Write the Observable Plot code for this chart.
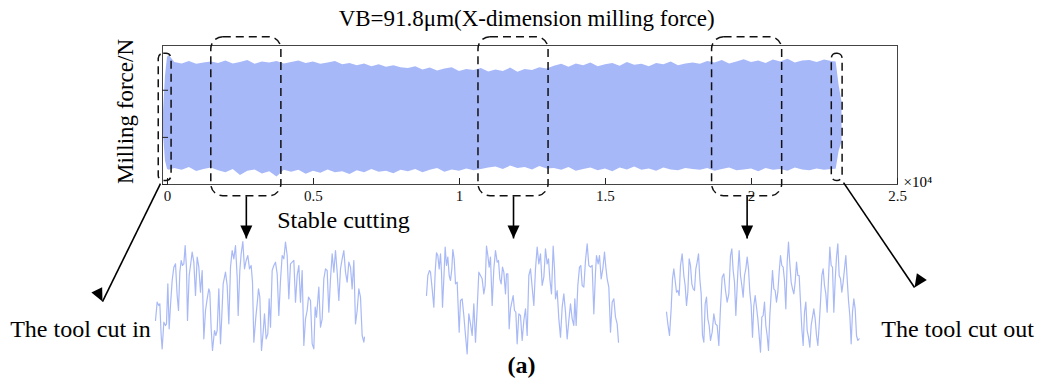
<!DOCTYPE html>
<html><head><meta charset="utf-8">
<script src="https://cdn.jsdelivr.net/npm/d3@7"></script>
<script src="https://cdn.jsdelivr.net/npm/@observablehq/plot@0.6"></script>
<style>
body{margin:0;background:#fff;}
#wrap{position:relative;width:1041px;height:386px;overflow:hidden;}
#wrap svg{position:absolute;}
</style></head><body><div id="wrap"></div>
<script>
// ---------- data ----------
const xTickValues = [0, 5000, 10000, 15000, 20000, 25000];
const xTickLabels = ["0", "0.5", "1", "1.5", "2", "2.5"];
const yTickValues = [-400, -200, 0];

// envelope of the dense X-force signal: [sample, upper N, lower N]
const forceEnvelope = [
  [-140,-100,-180],[-70,60,-300],[0,140,-335],[60,148,-340],
  [250,118,-332],[500,112,-340],[750,122,-328],[1000,110,-345],[1250,116,-336],[1500,120,-330],
  [1750,114,-342],[2000,124,-350],[2250,112,-336],[2500,118,-362],[2750,126,-344],[3000,110,-338],
  [3250,120,-355],[3500,116,-346],[3750,122,-368],[4000,112,-340],[4250,118,-348],[4500,124,-340],
  [4750,114,-356],[5000,120,-344],[5250,110,-352],[5500,116,-338],[5750,122,-350],[6000,108,-346],
  [6250,114,-358],[6500,104,-342],[6750,112,-350],[7000,100,-336],[7250,108,-348],[7500,98,-344],
  [7750,104,-354],[8000,96,-340],[8250,92,-346],[8500,100,-336],[8750,86,-350],[9000,94,-340],
  [9250,82,-332],[9500,90,-348],[9750,96,-338],[10000,80,-344],[10250,88,-334],[10500,84,-342],
  [10750,92,-336],[11000,78,-330],[11250,86,-326],[11500,80,-336],[11750,94,-322],[12000,76,-332],
  [12250,88,-328],[12500,84,-338],[12750,96,-324],[13000,90,-334],[13250,102,-332],[13500,110,-340],
  [13750,98,-328],[14000,112,-344],[14250,104,-336],[14500,116,-330],[14750,100,-342],[15000,108,-334],
  [15250,114,-346],[15500,102,-330],[15750,118,-338],[16000,106,-326],[16250,110,-340],[16500,100,-334],
  [16750,114,-344],[17000,108,-330],[17250,120,-338],[17500,104,-342],[17750,112,-332],[18000,116,-336],
  [18250,110,-340],[18500,122,-332],[18750,116,-344],[19000,126,-336],[19250,112,-330],[19500,120,-342],
  [19750,130,-338],[20000,118,-334],[20250,124,-346],[20500,114,-332],[20750,128,-340],[21000,120,-336],
  [21250,132,-344],[21500,116,-330],[21750,124,-338],[22000,126,-342],[22250,118,-334],[22500,128,-340],
  [22750,122,-336],[22900,120,-335],[23000,20,-260],[23100,-50,-220]
];

// zoomed waveforms: [sample offset, reading (0 = top of panel)]
const waveCutIn = [[15,255],[20,200],[25,210],[28,205],[32,300],[35,340],[40,260],[45,270],[48,265],[52,145],[56,280],[60,210],[65,135],[70,95],[75,85],[80,180],[84,225],[88,110],[92,75],[96,90],[100,85],[104,30],[108,100],[111,255],[116,120],[120,90],[125,50],[130,80],[135,180],[140,65],[145,95],[150,170],[155,105],[160,310],[165,225],[170,190],[175,160],[178,170],[182,280],[186,345],[192,285],[196,300],[200,285],[205,160],[210,325],[214,240],[218,145],[225,110],[230,150],[235,265],[240,95],[245,45],[250,70],[255,30],[260,125],[263,240],[268,105],[272,55],[277,18],[282,100],[287,75],[292,60],[297,100],[302,90],[306,140],[310,320],[316,245],[320,205],[324,160],[328,185],[333,345],[338,290],[342,235],[347,310],[352,295],[356,190],[360,275],[365,105],[370,90],[375,80],[380,115],[385,240],[390,135],[395,60],[400,70],[405,20],[410,60],[415,190],[420,85],[425,80],[430,75],[435,200],[440,120],[445,90],[450,200],[455,105],[460,330],[465,250],[470,225],[474,185],[480,195],[485,325],[490,340],[494,215],[498,245],[505,155],[510,275],[515,250],[520,130],[525,100],[530,105],[535,230],[540,130],[545,55],[550,110],[555,45],[560,110],[565,195],[570,100],[575,70],[580,45],[585,110],[590,140],[595,80],[600,95],[605,160],[610,75],[615,265],[620,225],[625,160],[630,185],[635,300],[640,320],[642,305]];

const waveStable = [[18,180],[22,120],[27,105],[30,110],[35,160],[40,215],[44,110],[48,52],[52,60],[56,100],[60,55],[63,110],[66,215],[70,130],[74,35],[78,90],[82,65],[86,120],[90,135],[94,100],[97,42],[101,70],[105,145],[110,140],[116,290],[120,195],[125,190],[130,240],[135,300],[140,355],[145,235],[150,265],[155,300],[160,205],[165,320],[170,220],[175,110],[180,120],[185,130],[190,175],[194,150],[198,32],[202,60],[206,95],[210,65],[215,210],[220,100],[225,45],[230,80],[234,75],[238,130],[242,145],[246,95],[250,110],[255,175],[258,115],[262,115],[266,280],[270,220],[274,200],[278,180],[282,225],[286,230],[290,325],[295,235],[300,240],[305,315],[310,255],[315,220],[320,300],[325,120],[330,100],[335,155],[340,210],[345,100],[350,35],[355,85],[360,55],[365,150],[370,125],[375,40],[380,85],[384,70],[388,130],[393,175],[398,32],[402,100],[405,190],[410,165],[415,250],[420,305],[425,215],[430,175],[435,230],[440,310],[445,255],[450,205],[455,250],[460,270],[463,190],[467,270],[472,150],[477,95],[481,90],[485,150],[490,155],[495,75],[500,25],[505,90],[510,95],[515,90],[520,235],[525,110],[528,60],[533,85],[537,60],[542,130],[547,100],[552,50],[556,95],[560,130],[565,155],[570,290],[575,200],[580,190],[585,245],[590,265],[594,320]];

const waveCutOut = [[18,230],[22,265],[27,300],[32,220],[36,130],[40,100],[44,135],[48,170],[52,165],[56,180],[60,90],[65,55],[70,120],[74,150],[78,210],[82,170],[86,70],[90,90],[94,145],[98,160],[102,165],[106,100],[110,80],[114,55],[118,130],[122,175],[126,300],[130,320],[134,205],[138,185],[142,250],[146,270],[150,315],[155,290],[160,235],[165,265],[170,270],[175,330],[180,215],[185,125],[190,115],[195,165],[200,200],[205,175],[210,60],[214,40],[218,105],[222,140],[226,240],[232,110],[236,45],[240,120],[244,150],[248,185],[252,120],[256,100],[260,65],[264,100],[268,170],[272,210],[276,305],[280,210],[284,180],[288,215],[292,250],[296,300],[300,350],[304,245],[308,240],[312,200],[316,270],[320,300],[324,345],[328,240],[332,175],[336,105],[340,160],[344,165],[348,200],[352,170],[356,110],[360,60],[364,90],[368,95],[372,135],[376,220],[380,80],[384,20],[388,85],[392,140],[396,160],[400,175],[404,140],[408,80],[412,120],[416,120],[420,200],[424,280],[428,330],[432,230],[436,200],[440,285],[444,305],[448,335],[452,270],[456,245],[460,220],[464,250],[468,300],[472,330],[476,270],[480,200],[484,120],[488,100],[492,150],[496,175],[500,230],[504,130],[508,35],[512,90],[516,95],[520,230],[524,135],[528,65],[532,25],[536,120],[540,130],[544,170],[548,140],[552,100],[556,60],[560,130],[564,195],[568,240],[572,325],[576,230],[580,190],[584,220],[588,300],[592,315],[596,310]];

// annotations (data coordinates: samples, N)
const bigBoxes = [
  {x1: 1500, x2: 3900, y1: -450, y2: 225},
  {x1: 10650, x2: 13050, y1: -450, y2: 225},
  {x1: 18650, x2: 21050, y1: -450, y2: 225}
];
const edgeBoxes = [
  {x1: -300, x2: 140, y1: -385, y2: 155},
  {x1: 22750, x2: 23120, y1: -385, y2: 155}
];
const arrows = [
  {x1: 2700, y1: -450, x2: 2700, y2: -629},
  {x1: 11850, y1: -450, x2: 11850, y2: -629},
  {x1: 19850, y1: -450, x2: 19850, y2: -629},
  {x1: -240, y1: -396, x2: -2226, y2: -897},
  {x1: 23152, y1: -392, x2: 25584, y2: -837}
];
const labels = [
  {x: 6028, y: -553, text: "Stable cutting"},
  {x: -2980, y: -1015, text: "The tool cut in"},
  {x: 27058, y: -1015, text: "The tool cut out"}
];

// ---------- layout ----------
const W = 1041, H = 386;
const xMin = -171, xMax = 25000, yMin = -400, yMax = 190;
const mL = 162, mR = 144, mT = 45, mB = 202;
const kx = (W - mL - mR) / (xMax - xMin);
const ky = (H - mT - mB) / (yMax - yMin);
const serif = "'Liberation Serif', 'Times New Roman', serif";
const bandColor = "#a7b8f9";
const waveColor = "#a3b5f6";
const tickLen = 6;
arrows.forEach(a => { a.angle = Math.atan2((a.x2 - a.x1) * kx, (a.y1 - a.y2) * ky) * 180 / Math.PI + 180; });

const main = Plot.plot({
  width: W, height: H,
  marginLeft: mL, marginRight: mR, marginTop: mT, marginBottom: mB,
  x: {domain: [xMin, xMax], axis: null},
  y: {domain: [yMin, yMax], axis: null},
  style: {background: "white", fontFamily: serif, overflow: "visible"},
  marks: [
    Plot.areaY(forceEnvelope, {x: d => d[0], y1: d => d[2], y2: d => d[1], fill: bandColor, curve: "linear"}),
    Plot.frame({stroke: "#444", strokeWidth: 1}),
    Plot.ruleX(xTickValues, {x: d => d, y1: yMin, y2: yMin + tickLen / ky, stroke: "#222"}),
    Plot.ruleY(yTickValues, {y: d => d, x1: xMin, x2: xMin + tickLen / kx, stroke: "#222"}),
    Plot.axisX(xTickValues, {tickSize: 0, tickPadding: 6, tickFormat: d => xTickLabels[xTickValues.indexOf(d)], fontSize: 15, fontFamily: serif, fill: "#111"}),
    Plot.text(["×10⁴"], {x: 25207, y: -390, text: d => d, textAnchor: "start", fontSize: 15, fontFamily: serif}),
    Plot.rect(bigBoxes, {x1: "x1", x2: "x2", y1: "y1", y2: "y2", rx: 12, fill: "none", stroke: "#111", strokeWidth: 1.5, strokeDasharray: "8,5"}),
    Plot.rect(edgeBoxes, {x1: "x1", x2: "x2", y1: "y1", y2: "y2", rx: 5, fill: "none", stroke: "#111", strokeWidth: 1.5, strokeDasharray: "8,5"}),
    Plot.link(arrows, {x1: "x1", y1: "y1", x2: "x2", y2: "y2", stroke: "#000", strokeWidth: 1.6}),
    Plot.vector(arrows, {x: "x2", y: "y2", rotate: "angle", shape: "spike", anchor: "end", length: 13, r: 6, fill: "#000", stroke: "none"}),
    Plot.text(labels, {x: "x", y: "y", text: "text", fontSize: 24, fontFamily: serif, fill: "#000"}),
    Plot.text(["VB=91.8μm(X-dimension milling force)"], {x: 12300, y: 305, text: d => d, fontSize: 23, fontFamily: serif, fill: "#000"}),
    Plot.text(["Milling force/N"], {x: -1439, y: -90, text: d => d, rotate: -90, fontSize: 23, fontFamily: serif, fill: "#000"}),
    Plot.text(["(a)"], {x: 12125, y: -1168, text: d => d, fontSize: 24, fontWeight: "bold", fontFamily: serif, fill: "#000"})
  ]
});
main.style.left = "0px"; main.style.top = "0px";
const wrap = document.getElementById("wrap");
wrap.appendChild(main);

function wave(data, left, top, w, h) {
  const p = Plot.plot({
    width: w, height: h, margin: 0,
    x: {domain: [0, w * 3], axis: null},
    y: {domain: [0, h * 3], reverse: true, axis: null},
    style: {background: "transparent", overflow: "visible"},
    marks: [Plot.line(data, {x: d => d[0], y: d => d[1], stroke: waveColor, strokeWidth: 1.2, strokeOpacity: 0.95})]
  });
  p.style.left = left + "px"; p.style.top = top + "px";
  wrap.appendChild(p);
}
wave(waveCutIn, 150, 235, 220, 125);
wave(waveStable, 420, 235, 205, 125);
wave(waveCutOut, 660, 235, 205, 125);
</script></body></html>
